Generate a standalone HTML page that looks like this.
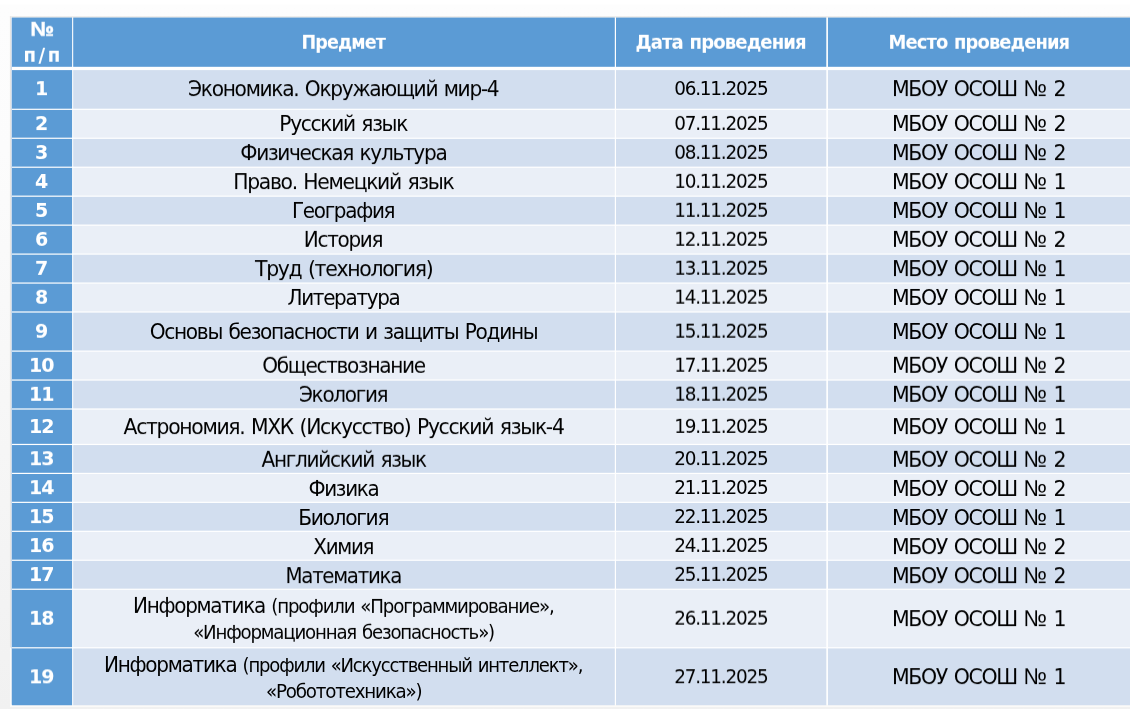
<!DOCTYPE html>
<html lang="ru">
<head>
<meta charset="utf-8">
<title>График проведения</title>
<style>
html,body{margin:0;padding:0}
html{width:1130px;height:709px;overflow:hidden}
body{width:1130px;height:709px;overflow:hidden;position:relative;background:linear-gradient(#fff 0,#fff 4px,#fdfdfd 5px,#fcfcfc 150px,#f7f7f7 400px,#f1f1f1 709px);font-family:"DejaVu Sans", "Liberation Sans", sans-serif;color:#000}
svg.bg{position:absolute;left:0;top:0;display:block}
table{display:block;position:absolute;left:0;top:0;width:1130px;height:709px;overflow:hidden;border:0;border-spacing:0;margin:0;padding:0}
thead,tbody{display:block}
tr{display:block;position:absolute;left:0;width:1130px}
th,td{display:block;position:absolute;top:0;height:100%;padding:0;margin:0;font-weight:normal;will-change:transform}
.c1{left:12px;width:60px}
.c2{left:74px;width:540px}
.c3{left:616px;width:210px}
.c4{left:829px;width:300px}
.t{position:absolute;left:-100px;right:-100px;letter-spacing:-0.065em;word-spacing:0.07em;height:26px;line-height:26px;text-align:center;white-space:nowrap;transform-origin:50% 50%}
.b{font-size:21.33px}
.s{font-size:18.67px}
.h{font-size:18.67px;font-weight:bold;color:#fff;letter-spacing:-0.05em}
.n{font-size:18.67px;font-weight:bold;color:#fff;letter-spacing:-0.05em}
.no{font-family:"Liberation Sans",sans-serif;font-size:1.07em;letter-spacing:0;line-height:0}
.h .no{-webkit-text-stroke:.45px #fff}
.g{font-size:21.33px;font-weight:normal;line-height:0}
</style>
</head>
<body>
<svg class="bg" width="1130" height="709" viewBox="0 0 1130 709">
<rect x="12" y="17.55" width="1118.6" height="687.7" fill="#fff"/>
<rect x="9.9" y="16.3" width="1121.6" height="1.25" fill="#e7e5e3"/>
<rect x="9.9" y="16.3" width="1.1" height="631.45" fill="#e7e5e3"/>
<rect x="11" y="17.55" width="1" height="630.2" fill="#c9dbef"/>
<rect x="10" y="647.75" width="1.1" height="59.2" fill="#fbfaf8"/>
<rect x="11" y="647.75" width="1" height="57.5" fill="#d3e2f2"/>
<rect x="10" y="704.75" width="1121.6" height="2.25" fill="#fbfaf8"/>
<rect x="12" y="17.55" width="60.1" height="49.25" fill="#5b9bd5"/>
<rect x="73.2" y="17.55" width="541.6" height="49.25" fill="#5b9bd5"/>
<rect x="616" y="17.55" width="210.3" height="49.25" fill="#5b9bd5"/>
<rect x="827.95" y="17.55" width="302.65" height="49.25" fill="#5b9bd5"/>
<rect x="12" y="70.1" width="60.1" height="38.6" fill="#5b9bd5"/>
<rect x="73.2" y="70.1" width="541.6" height="38.6" fill="#d2deef"/>
<rect x="616" y="70.1" width="210.3" height="38.6" fill="#d2deef"/>
<rect x="827.95" y="70.1" width="302.65" height="38.6" fill="#d2deef"/>
<rect x="12" y="109.9" width="60.1" height="27.76" fill="#5b9bd5"/>
<rect x="73.2" y="109.9" width="541.6" height="27.76" fill="#eaeff7"/>
<rect x="616" y="109.9" width="210.3" height="27.76" fill="#eaeff7"/>
<rect x="827.95" y="109.9" width="302.65" height="27.76" fill="#eaeff7"/>
<rect x="12" y="138.86" width="60.1" height="27.76" fill="#5b9bd5"/>
<rect x="73.2" y="138.86" width="541.6" height="27.76" fill="#d2deef"/>
<rect x="616" y="138.86" width="210.3" height="27.76" fill="#d2deef"/>
<rect x="827.95" y="138.86" width="302.65" height="27.76" fill="#d2deef"/>
<rect x="12" y="167.82" width="60.1" height="27.76" fill="#5b9bd5"/>
<rect x="73.2" y="167.82" width="541.6" height="27.76" fill="#eaeff7"/>
<rect x="616" y="167.82" width="210.3" height="27.76" fill="#eaeff7"/>
<rect x="827.95" y="167.82" width="302.65" height="27.76" fill="#eaeff7"/>
<rect x="12" y="196.78" width="60.1" height="27.76" fill="#5b9bd5"/>
<rect x="73.2" y="196.78" width="541.6" height="27.76" fill="#d2deef"/>
<rect x="616" y="196.78" width="210.3" height="27.76" fill="#d2deef"/>
<rect x="827.95" y="196.78" width="302.65" height="27.76" fill="#d2deef"/>
<rect x="12" y="225.74" width="60.1" height="27.76" fill="#5b9bd5"/>
<rect x="73.2" y="225.74" width="541.6" height="27.76" fill="#eaeff7"/>
<rect x="616" y="225.74" width="210.3" height="27.76" fill="#eaeff7"/>
<rect x="827.95" y="225.74" width="302.65" height="27.76" fill="#eaeff7"/>
<rect x="12" y="254.7" width="60.1" height="27.76" fill="#5b9bd5"/>
<rect x="73.2" y="254.7" width="541.6" height="27.76" fill="#d2deef"/>
<rect x="616" y="254.7" width="210.3" height="27.76" fill="#d2deef"/>
<rect x="827.95" y="254.7" width="302.65" height="27.76" fill="#d2deef"/>
<rect x="12" y="283.66" width="60.1" height="27.74" fill="#5b9bd5"/>
<rect x="73.2" y="283.66" width="541.6" height="27.74" fill="#eaeff7"/>
<rect x="616" y="283.66" width="210.3" height="27.74" fill="#eaeff7"/>
<rect x="827.95" y="283.66" width="302.65" height="27.74" fill="#eaeff7"/>
<rect x="12" y="312.6" width="60.1" height="37.9" fill="#5b9bd5"/>
<rect x="73.2" y="312.6" width="541.6" height="37.9" fill="#d2deef"/>
<rect x="616" y="312.6" width="210.3" height="37.9" fill="#d2deef"/>
<rect x="827.95" y="312.6" width="302.65" height="37.9" fill="#d2deef"/>
<rect x="12" y="351.7" width="60.1" height="27.75" fill="#5b9bd5"/>
<rect x="73.2" y="351.7" width="541.6" height="27.75" fill="#eaeff7"/>
<rect x="616" y="351.7" width="210.3" height="27.75" fill="#eaeff7"/>
<rect x="827.95" y="351.7" width="302.65" height="27.75" fill="#eaeff7"/>
<rect x="12" y="380.65" width="60.1" height="27.75" fill="#5b9bd5"/>
<rect x="73.2" y="380.65" width="541.6" height="27.75" fill="#d2deef"/>
<rect x="616" y="380.65" width="210.3" height="27.75" fill="#d2deef"/>
<rect x="827.95" y="380.65" width="302.65" height="27.75" fill="#d2deef"/>
<rect x="12" y="409.6" width="60.1" height="34.25" fill="#5b9bd5"/>
<rect x="73.2" y="409.6" width="541.6" height="34.25" fill="#eaeff7"/>
<rect x="616" y="409.6" width="210.3" height="34.25" fill="#eaeff7"/>
<rect x="827.95" y="409.6" width="302.65" height="34.25" fill="#eaeff7"/>
<rect x="12" y="445.05" width="60.1" height="27.75" fill="#5b9bd5"/>
<rect x="73.2" y="445.05" width="541.6" height="27.75" fill="#d2deef"/>
<rect x="616" y="445.05" width="210.3" height="27.75" fill="#d2deef"/>
<rect x="827.95" y="445.05" width="302.65" height="27.75" fill="#d2deef"/>
<rect x="12" y="474" width="60.1" height="27.75" fill="#5b9bd5"/>
<rect x="73.2" y="474" width="541.6" height="27.75" fill="#eaeff7"/>
<rect x="616" y="474" width="210.3" height="27.75" fill="#eaeff7"/>
<rect x="827.95" y="474" width="302.65" height="27.75" fill="#eaeff7"/>
<rect x="12" y="502.95" width="60.1" height="27.75" fill="#5b9bd5"/>
<rect x="73.2" y="502.95" width="541.6" height="27.75" fill="#d2deef"/>
<rect x="616" y="502.95" width="210.3" height="27.75" fill="#d2deef"/>
<rect x="827.95" y="502.95" width="302.65" height="27.75" fill="#d2deef"/>
<rect x="12" y="531.9" width="60.1" height="27.75" fill="#5b9bd5"/>
<rect x="73.2" y="531.9" width="541.6" height="27.75" fill="#eaeff7"/>
<rect x="616" y="531.9" width="210.3" height="27.75" fill="#eaeff7"/>
<rect x="827.95" y="531.9" width="302.65" height="27.75" fill="#eaeff7"/>
<rect x="12" y="560.85" width="60.1" height="27.8" fill="#5b9bd5"/>
<rect x="73.2" y="560.85" width="541.6" height="27.8" fill="#d2deef"/>
<rect x="616" y="560.85" width="210.3" height="27.8" fill="#d2deef"/>
<rect x="827.95" y="560.85" width="302.65" height="27.8" fill="#d2deef"/>
<rect x="12" y="589.85" width="60.1" height="57.35" fill="#5b9bd5"/>
<rect x="73.2" y="589.85" width="541.6" height="57.35" fill="#eaeff7"/>
<rect x="616" y="589.85" width="210.3" height="57.35" fill="#eaeff7"/>
<rect x="827.95" y="589.85" width="302.65" height="57.35" fill="#eaeff7"/>
<rect x="12" y="648.4" width="60.1" height="56.85" fill="#5b9bd5"/>
<rect x="73.2" y="648.4" width="541.6" height="56.85" fill="#d2deef"/>
<rect x="616" y="648.4" width="210.3" height="56.85" fill="#d2deef"/>
<rect x="827.95" y="648.4" width="302.65" height="56.85" fill="#d2deef"/>
</svg>
<table>
<thead>
<tr style="top:17px;height:50px">
<th class="c1" style="transform:translateY(0.75px) rotate(.0001deg)"><span class="t h" style="top:-1px;transform:translateX(0.13px) scaleX(1.0664)"><span class="no">№</span> </span><span class="t h" style="top:25px;letter-spacing:2.7px;transform:translateX(1.21px) scaleX(0.9706)">п/п</span></th>
<th class="c2" style="transform:translateY(0.8px) rotate(.0001deg)"><span class="t h" style="top:12px;transform:translateX(-0.79px) scaleX(0.9396)">Предмет</span></th>
<th class="c3" style="transform:translateY(0.8px) rotate(.0001deg)"><span class="t h" style="top:12px;transform:translateX(-0.36px) scaleX(0.9698)">Дата проведения</span></th>
<th class="c4" style="transform:translateY(0.8px) rotate(.0001deg)"><span class="t h" style="top:12px;transform:translateX(-0.08px) scaleX(0.9611)">Место проведения</span></th>
</tr>
</thead>
<tbody>
<tr style="top:70px;height:39px">
<th class="c1" style="transform:translateY(0.17px) rotate(.0001deg)"><span class="t n" style="top:6px;transform:translateX(-0.78px) scaleX(1.021)">1</span></th>
<td class="c2" style="transform:translateY(0.1px) rotate(.0001deg)"><span class="t b" style="top:6px;transform:translateX(-0.77px) scaleX(0.9452)">Экономика. Окружающий мир-4</span></td>
<td class="c3"><span class="t s" style="top:6px;transform:translateX(-0.18px) scaleX(0.986)">06.11.2025</span></td>
<td class="c4" style="transform:translateY(0.1px) rotate(.0001deg)"><span class="t b" style="top:6px;transform:translateX(-0.38px) scaleX(0.9605)">МБОУ ОСОШ <span class="no">№</span> 2</span></td>
</tr>
<tr style="top:109px;height:29px">
<th class="c1" style="transform:translateY(0.08px) rotate(.0001deg)"><span class="t n" style="top:2px;transform:translateX(-0.78px) scaleX(1.021)">2</span></th>
<td class="c2" style="transform:translateY(0.97px) rotate(.0001deg)"><span class="t b" style="top:1px;transform:translateX(-0.83px) scaleX(0.9457)">Русский язык</span></td>
<td class="c3" style="transform:translateY(0.93px) rotate(.0001deg)"><span class="t s" style="top:1px;transform:translateX(-0.18px) scaleX(0.986)">07.11.2025</span></td>
<td class="c4" style="transform:translateY(0.97px) rotate(.0001deg)"><span class="t b" style="top:1px;transform:translateX(-0.38px) scaleX(0.9605)">МБОУ ОСОШ <span class="no">№</span> 2</span></td>
</tr>
<tr style="top:138px;height:29px">
<th class="c1" style="transform:translateY(0.04px) rotate(.0001deg)"><span class="t n" style="top:2px;transform:translateX(-0.78px) scaleX(1.021)">3</span></th>
<td class="c2" style="transform:translateY(0.1px) rotate(.0001deg)"><span class="t b" style="top:2px;transform:translateX(-0.69px) scaleX(0.9418)">Физическая культура</span></td>
<td class="c3" style="transform:translateY(0.89px) rotate(.0001deg)"><span class="t s" style="top:1px;transform:translateX(-0.18px) scaleX(0.986)">08.11.2025</span></td>
<td class="c4" style="transform:translateY(0.1px) rotate(.0001deg)"><span class="t b" style="top:2px;transform:translateX(-0.38px) scaleX(0.9605)">МБОУ ОСОШ <span class="no">№</span> 2</span></td>
</tr>
<tr style="top:167px;height:29px">
<th class="c1"><span class="t n" style="top:2px;transform:translateX(-0.78px) scaleX(1.021)">4</span></th>
<td class="c2" style="transform:translateY(0.1px) rotate(.0001deg)"><span class="t b" style="top:2px;transform:translateX(-0.63px) scaleX(0.9522)">Право. Немецкий язык</span></td>
<td class="c3" style="transform:translateY(0.85px) rotate(.0001deg)"><span class="t s" style="top:1px;transform:translateX(-0.18px) scaleX(0.986)">10.11.2025</span></td>
<td class="c4" style="transform:translateY(0.1px) rotate(.0001deg)"><span class="t b" style="top:2px;transform:translateX(-0.38px) scaleX(0.9605)">МБОУ ОСОШ <span class="no">№</span> 1</span></td>
</tr>
<tr style="top:196px;height:29px">
<th class="c1" style="transform:translateY(0.96px) rotate(.0001deg)"><span class="t n" style="top:1px;transform:translateX(-0.78px) scaleX(1.021)">5</span></th>
<td class="c2" style="transform:translateY(0.97px) rotate(.0001deg)"><span class="t b" style="top:1px;transform:translateX(-0.88px) scaleX(0.9352)">География</span></td>
<td class="c3" style="transform:translateY(0.81px) rotate(.0001deg)"><span class="t s" style="top:1px;transform:translateX(-0.18px) scaleX(0.986)">11.11.2025</span></td>
<td class="c4" style="transform:translateY(0.97px) rotate(.0001deg)"><span class="t b" style="top:1px;transform:translateX(-0.38px) scaleX(0.9605)">МБОУ ОСОШ <span class="no">№</span> 1</span></td>
</tr>
<tr style="top:225px;height:28px">
<th class="c1" style="transform:translateY(0.92px) rotate(.0001deg)"><span class="t n" style="top:1px;transform:translateX(-0.78px) scaleX(1.021)">6</span></th>
<td class="c2" style="transform:translateY(0.88px) rotate(.0001deg)"><span class="t b" style="top:1px;transform:translateX(-1px) scaleX(0.9363)">История</span></td>
<td class="c3" style="transform:translateY(0.77px) rotate(.0001deg)"><span class="t s" style="top:1px;transform:translateX(-0.18px) scaleX(0.986)">12.11.2025</span></td>
<td class="c4" style="transform:translateY(0.88px) rotate(.0001deg)"><span class="t b" style="top:1px;transform:translateX(-0.38px) scaleX(0.9605)">МБОУ ОСОШ <span class="no">№</span> 2</span></td>
</tr>
<tr style="top:254px;height:28px">
<th class="c1" style="transform:translateY(0.88px) rotate(.0001deg)"><span class="t n" style="top:1px;transform:translateX(-0.78px) scaleX(1.021)">7</span></th>
<td class="c2" style="transform:translateY(0.1px) rotate(.0001deg)"><span class="t b" style="top:2px;transform:translateX(-0.33px) scaleX(0.9584)">Труд (технология)</span></td>
<td class="c3" style="transform:translateY(0.73px) rotate(.0001deg)"><span class="t s" style="top:1px;transform:translateX(-0.18px) scaleX(0.986)">13.11.2025</span></td>
<td class="c4" style="transform:translateY(0.1px) rotate(.0001deg)"><span class="t b" style="top:2px;transform:translateX(-0.38px) scaleX(0.9605)">МБОУ ОСОШ <span class="no">№</span> 1</span></td>
</tr>
<tr style="top:283px;height:28px">
<th class="c1" style="transform:translateY(0.83px) rotate(.0001deg)"><span class="t n" style="top:1px;transform:translateX(-0.78px) scaleX(1.021)">8</span></th>
<td class="c2" style="transform:translateY(0.97px) rotate(.0001deg)"><span class="t b" style="top:1px;transform:translateX(-0.52px) scaleX(0.9348)">Литература</span></td>
<td class="c3" style="transform:translateY(0.68px) rotate(.0001deg)"><span class="t s" style="top:1px;transform:translateX(-0.18px) scaleX(0.986)">14.11.2025</span></td>
<td class="c4" style="transform:translateY(0.97px) rotate(.0001deg)"><span class="t b" style="top:1px;transform:translateX(-0.38px) scaleX(0.9605)">МБОУ ОСОШ <span class="no">№</span> 1</span></td>
</tr>
<tr style="top:312px;height:38px">
<th class="c1" style="transform:translateY(0.85px) rotate(.0001deg)"><span class="t n" style="top:6px;transform:translateX(-0.78px) scaleX(1.021)">9</span></th>
<td class="c2"><span class="t b" style="top:7px;transform:translateX(-0.46px) scaleX(0.9442)">Основы безопасности и защиты Родины</span></td>
<td class="c3" style="transform:translateY(0.7px) rotate(.0001deg)"><span class="t s" style="top:6px;transform:translateX(-0.18px) scaleX(0.986)">15.11.2025</span></td>
<td class="c4"><span class="t b" style="top:7px;transform:translateX(-0.38px) scaleX(0.9605)">МБОУ ОСОШ <span class="no">№</span> 1</span></td>
</tr>
<tr style="top:351px;height:28px">
<th class="c1" style="transform:translateY(0.88px) rotate(.0001deg)"><span class="t n" style="top:1px;transform:translateX(-0.78px) scaleX(1.021)">10</span></th>
<td class="c2" style="transform:translateY(0.83px) rotate(.0001deg)"><span class="t b" style="top:1px;transform:translateX(-0.43px) scaleX(0.9415)">Обществознание</span></td>
<td class="c3" style="transform:translateY(0.73px) rotate(.0001deg)"><span class="t s" style="top:1px;transform:translateX(-0.18px) scaleX(0.986)">17.11.2025</span></td>
<td class="c4" style="transform:translateY(0.83px) rotate(.0001deg)"><span class="t b" style="top:1px;transform:translateX(-0.38px) scaleX(0.9605)">МБОУ ОСОШ <span class="no">№</span> 2</span></td>
</tr>
<tr style="top:380px;height:28px">
<th class="c1" style="transform:translateY(0.82px) rotate(.0001deg)"><span class="t n" style="top:1px;transform:translateX(-0.78px) scaleX(1.021)">11</span></th>
<td class="c2" style="transform:translateY(0.83px) rotate(.0001deg)"><span class="t b" style="top:1px;transform:translateX(-0.85px) scaleX(0.9372)">Экология</span></td>
<td class="c3" style="transform:translateY(0.67px) rotate(.0001deg)"><span class="t s" style="top:1px;transform:translateX(-0.18px) scaleX(0.986)">18.11.2025</span></td>
<td class="c4" style="transform:translateY(0.83px) rotate(.0001deg)"><span class="t b" style="top:1px;transform:translateX(-0.38px) scaleX(0.9605)">МБОУ ОСОШ <span class="no">№</span> 1</span></td>
</tr>
<tr style="top:409px;height:35px">
<th class="c1"><span class="t n" style="top:5px;transform:translateX(-0.78px) scaleX(1.021)">12</span></th>
<td class="c2" style="transform:translateY(0.1px) rotate(.0001deg)"><span class="t b" style="top:5px;transform:translateX(-0.46px) scaleX(0.9545)">Астрономия. МХК (Искусство) Русский язык-4</span></td>
<td class="c3" style="transform:translateY(0.88px) rotate(.0001deg)"><span class="t s" style="top:4px;transform:translateX(-0.18px) scaleX(0.986)">19.11.2025</span></td>
<td class="c4" style="transform:translateY(0.1px) rotate(.0001deg)"><span class="t b" style="top:5px;transform:translateX(-0.38px) scaleX(0.9605)">МБОУ ОСОШ <span class="no">№</span> 1</span></td>
</tr>
<tr style="top:445px;height:28px">
<th class="c1" style="transform:translateY(0.22px) rotate(.0001deg)"><span class="t n" style="top:1px;transform:translateX(-0.78px) scaleX(1.021)">13</span></th>
<td class="c2" style="transform:translateY(0.83px) rotate(.0001deg)"><span class="t b" style="top:1px;transform:translateX(-0.25px) scaleX(0.9396)">Английский язык</span></td>
<td class="c3" style="transform:translateY(0.07px) rotate(.0001deg)"><span class="t s" style="top:1px;transform:translateX(-0.18px) scaleX(0.986)">20.11.2025</span></td>
<td class="c4" style="transform:translateY(0.83px) rotate(.0001deg)"><span class="t b" style="top:1px;transform:translateX(-0.38px) scaleX(0.9605)">МБОУ ОСОШ <span class="no">№</span> 2</span></td>
</tr>
<tr style="top:474px;height:28px">
<th class="c1" style="transform:translateY(0.18px) rotate(.0001deg)"><span class="t n" style="top:1px;transform:translateX(-0.78px) scaleX(1.021)">14</span></th>
<td class="c2" style="transform:translateY(0.97px) rotate(.0001deg)"><span class="t b" style="top:1px;transform:translateX(-0.58px) scaleX(0.9337)">Физика</span></td>
<td class="c3"><span class="t s" style="top:1px;transform:translateX(-0.18px) scaleX(0.986)">21.11.2025</span></td>
<td class="c4" style="transform:translateY(0.97px) rotate(.0001deg)"><span class="t b" style="top:1px;transform:translateX(-0.38px) scaleX(0.9605)">МБОУ ОСОШ <span class="no">№</span> 2</span></td>
</tr>
<tr style="top:502px;height:29px">
<th class="c1" style="transform:translateY(0.12px) rotate(.0001deg)"><span class="t n" style="top:2px;transform:translateX(-0.78px) scaleX(1.021)">15</span></th>
<td class="c2"><span class="t b" style="top:3px;transform:translateX(-0.81px) scaleX(0.9482)">Биология</span></td>
<td class="c3"><span class="t s" style="top:2px;transform:translateX(-0.18px) scaleX(0.986)">22.11.2025</span></td>
<td class="c4"><span class="t b" style="top:3px;transform:translateX(-0.38px) scaleX(0.9605)">МБОУ ОСОШ <span class="no">№</span> 1</span></td>
</tr>
<tr style="top:531px;height:29px">
<th class="c1" style="transform:translateY(0.07px) rotate(.0001deg)"><span class="t n" style="top:2px;transform:translateX(-0.78px) scaleX(1.021)">16</span></th>
<td class="c2" style="transform:translateY(0.1px) rotate(.0001deg)"><span class="t b" style="top:3px;transform:translateX(-0.7px) scaleX(0.931)">Химия</span></td>
<td class="c3" style="transform:translateY(0.92px) rotate(.0001deg)"><span class="t s" style="top:1px;transform:translateX(-0.18px) scaleX(0.986)">24.11.2025</span></td>
<td class="c4" style="transform:translateY(0.1px) rotate(.0001deg)"><span class="t b" style="top:3px;transform:translateX(-0.38px) scaleX(0.9605)">МБОУ ОСОШ <span class="no">№</span> 2</span></td>
</tr>
<tr style="top:560px;height:29px">
<th class="c1" style="transform:translateY(0.05px) rotate(.0001deg)"><span class="t n" style="top:2px;transform:translateX(-0.78px) scaleX(1.021)">17</span></th>
<td class="c2" style="transform:translateY(0.13px) rotate(.0001deg)"><span class="t b" style="top:3px;transform:translateX(-0.74px) scaleX(0.9267)">Математика</span></td>
<td class="c3" style="transform:translateY(0.9px) rotate(.0001deg)"><span class="t s" style="top:1px;transform:translateX(-0.18px) scaleX(0.986)">25.11.2025</span></td>
<td class="c4" style="transform:translateY(0.13px) rotate(.0001deg)"><span class="t b" style="top:3px;transform:translateX(-0.38px) scaleX(0.9605)">МБОУ ОСОШ <span class="no">№</span> 2</span></td>
</tr>
<tr style="top:589px;height:58px">
<th class="c1" style="transform:translateY(0.82px) rotate(.0001deg)"><span class="t n" style="top:16px;transform:translateX(-0.78px) scaleX(1.021)">18</span></th>
<td class="c2" style="transform:translateY(0.93px) rotate(.0001deg)"><span class="t b" style="top:3px;transform:translateX(-144.95px) scaleX(0.9363)">Информатика </span><span class="t s" style="top:4px;transform:translateX(68.44px) scaleX(0.9767)">(профили «Программирование», </span><span class="t s" style="top:30px;transform:translateX(-0.43px) scaleX(0.9733)">«Информационная безопасность»)</span></td>
<td class="c3" style="transform:translateY(0.67px) rotate(.0001deg)"><span class="t s" style="top:16px;transform:translateX(-0.18px) scaleX(0.986)">26.11.2025</span></td>
<td class="c4" style="transform:translateY(0.13px) rotate(.0001deg)"><span class="t b" style="top:17px;transform:translateX(-0.38px) scaleX(0.9605)">МБОУ ОСОШ <span class="no">№</span> 1</span></td>
</tr>
<tr style="top:648px;height:57px">
<th class="c1" style="transform:translateY(0.35px) rotate(.0001deg)"><span class="t n" style="top:16px;transform:translateX(-0.78px) scaleX(1.021)">19</span></th>
<td class="c2"><span class="t b" style="top:4px;transform:translateX(-173.77px) scaleX(0.9395)">Информатика </span><span class="t s" style="top:5px;transform:translateX(68.37px) scaleX(0.9666)">(профили «Искусственный интеллект», </span><span class="t s" style="top:31px;transform:translateX(-0.29px) scaleX(0.9787)">«Робототехника»)</span></td>
<td class="c3" style="transform:translateY(0.2px) rotate(.0001deg)"><span class="t s" style="top:16px;transform:translateX(-0.18px) scaleX(0.986)">27.11.2025</span></td>
<td class="c4" style="transform:translateY(0.13px) rotate(.0001deg)"><span class="t b" style="top:16px;transform:translateX(-0.38px) scaleX(0.9605)">МБОУ ОСОШ <span class="no">№</span> 1</span></td>
</tr>
</tbody>
</table>
</body>
</html>
